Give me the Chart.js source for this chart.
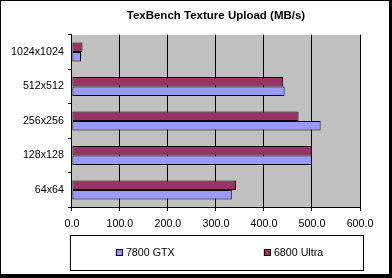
<!DOCTYPE html>
<html>
<head>
<meta charset="utf-8">
<script src="https://cdn.jsdelivr.net/npm/chart.js@4"></script>
<style>
  html, body { margin: 0; padding: 0; background: #fff; }
  canvas { display: block; }
</style>
</head>
<body>
<canvas id="chart" width="392" height="278"></canvas>
<script>
// values
const categories = ['1024x1024', '512x512', '256x256', '128x128', '64x64'];
const gtx7800 = [19, 443, 518, 500, 333];
const ultra6800 = [22, 440, 472, 500, 342];
const xTicks = [0, 100, 200, 300, 400, 500, 600];

const FONT = '"Liberation Sans", Arial, sans-serif';

// grey plot area like Excel
const plotBackground = {
  id: 'plotBackground',
  beforeDraw(chart) {
    const { ctx, chartArea: a } = chart;
    ctx.save();
    ctx.fillStyle = '#C0C0C0';
    ctx.fillRect(a.left, a.top, a.right - a.left, a.bottom - a.top);
    ctx.restore();
  }
};

// boxed legend + outer frame
const frameAndLegend = {
  id: 'frameAndLegend',
  afterDraw(chart) {
    const { ctx, chartArea: a, width, height } = chart;
    ctx.save();

    // legend box
    const boxLeft = a.left - 2;
    const boxRight = a.right + 3;
    const boxTop = height - 43;
    const boxBottom = height - 8;
    ctx.strokeStyle = '#000';
    ctx.lineWidth = 1;
    ctx.strokeRect(boxLeft + 0.5, boxTop + 0.5, boxRight - boxLeft, boxBottom - boxTop);

    const midY = Math.round((boxTop + boxBottom) / 2);
    const order = [1, 0]; // 7800 GTX first in the legend
    const offsets = [46, 194];
    ctx.font = '10.7px ' + FONT;
    ctx.textBaseline = 'middle';
    order.forEach((di, i) => {
      const ds = chart.data.datasets[di];
      const x = boxLeft + offsets[i];
      ctx.fillStyle = ds.backgroundColor;
      ctx.fillRect(x, midY - 4, 7, 7);
      ctx.strokeStyle = '#000';
      ctx.strokeRect(x + 0.5, midY - 3.5, 6, 6);
      ctx.fillStyle = '#000';
      ctx.fillText(ds.label, x + 10, midY);
    });

    // outer frame, heavier on right and bottom
    ctx.fillStyle = '#000';
    ctx.fillRect(0, 0, width, 1);
    ctx.fillRect(0, 0, 1, height);
    ctx.fillRect(width - 3, 0, 3, height);
    ctx.fillRect(0, height - 4, width, 4);
    ctx.restore();
  }
};

new Chart(document.getElementById('chart'), {
  type: 'bar',
  data: {
    labels: categories,
    datasets: [
      {
        label: '6800 Ultra',
        data: ultra6800,
        backgroundColor: '#993366',
        borderColor: '#000',
        borderWidth: 1,
        borderSkipped: false
      },
      {
        label: '7800 GTX',
        data: gtx7800,
        backgroundColor: '#9999FF',
        borderColor: '#000',
        borderWidth: 1,
        borderSkipped: false
      }
    ]
  },
  options: {
    indexAxis: 'y',
    responsive: false,
    animation: false,
    datasets: {
      bar: { categoryPercentage: 0.55, barPercentage: 1.0 }
    },
    layout: { padding: { left: 7, right: 32, top: 0, bottom: 42 } },
    scales: {
      x: {
        min: 0,
        max: 600,
        afterBuildTicks(scale) {
          scale.ticks = xTicks.map(v => ({ value: v }));
        },
        ticks: {
          callback: v => Number(v).toFixed(1),
          color: '#000',
          font: { family: FONT, size: 10.7 },
          padding: 6,
          maxRotation: 0
        },
        grid: { color: '#000', lineWidth: 1, tickLength: 4 },
        border: { color: '#000', width: 1 }
      },
      y: {
        ticks: {
          color: '#000',
          font: { family: FONT, size: 10.7 },
          padding: 4
        },
        grid: { color: '#000', drawOnChartArea: false, tickLength: 4 },
        border: { color: '#000', width: 1 }
      }
    },
    plugins: {
      legend: { display: false },
      tooltip: { enabled: false },
      title: {
        display: true,
        fullSize: false,
        text: 'TexBench Texture Upload (MB/s)',
        color: '#000',
        font: { family: FONT, size: 11.5, weight: 'bold' },
        padding: { top: 9, bottom: 12 }
      }
    }
  },
  plugins: [plotBackground, frameAndLegend]
});
</script>
</body>
</html>
